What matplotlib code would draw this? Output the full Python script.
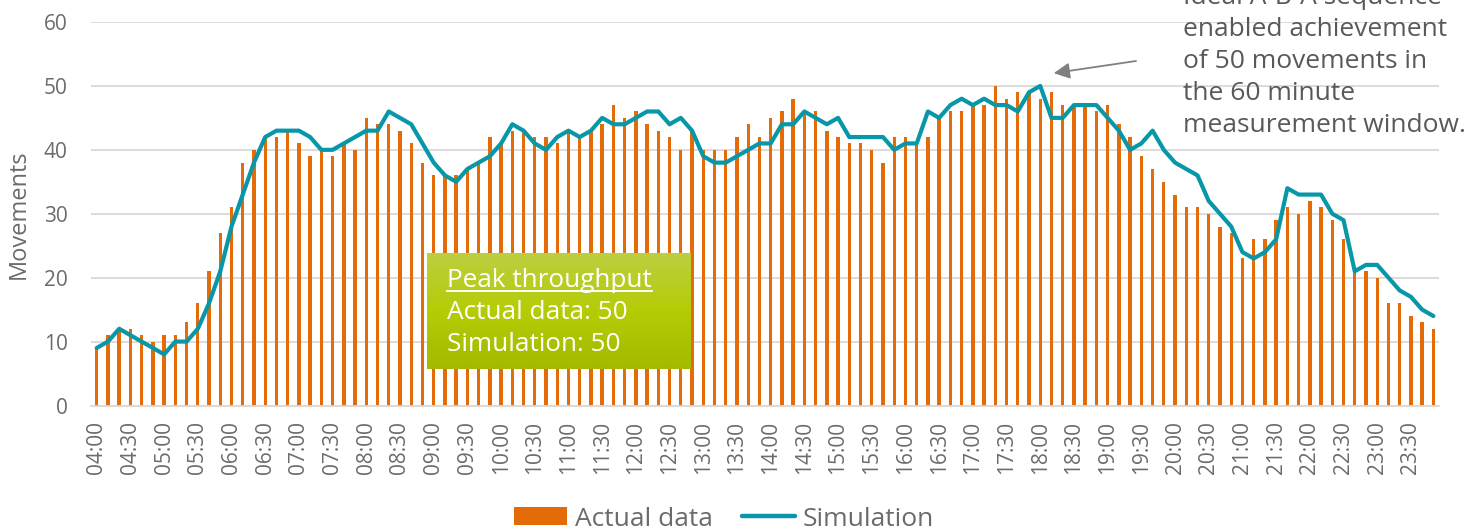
import numpy as np
import matplotlib
matplotlib.use("Agg")
import matplotlib.pyplot as plt
from matplotlib.lines import Line2D
from matplotlib.patches import Patch

plt.rcParams['font.family'] = ['Open Sans', 'DejaVu Sans']

W, H = 1469, 532

# 10-minute intervals from 04:00 to 23:50
times = [f"{h:02d}:{m:02d}" for h in range(4, 24) for m in range(0, 60, 10)]

tick_labels = ["04:00", "04:30", "05:00", "05:30", "06:00", "06:30", "07:00", "07:30",
               "08:00", "08:30", "09:00", "09:30", "10:00", "10:30", "11:00", "11:30",
               "12:00", "12:30", "13:00", "13:30", "14:00", "14:30", "15:00", "15:30",
               "16:00", "16:30", "17:00", "17:30", "18:00", "18:30", "19:00", "19:30",
               "20:00", "20:30", "21:00", "21:30", "22:00", "22:30", "23:00", "23:30"]

actual = [9, 11, 12, 12, 11, 10, 11, 11, 13, 16,
          21, 27, 31, 38, 40, 42, 42, 43, 41, 39,
          40, 39, 41, 40, 45, 44, 44, 43, 41, 38,
          36, 36, 36, 37, 38, 42, 41, 43, 43, 42,
          42, 41, 43, 42, 43, 44, 47, 45, 46, 44,
          43, 42, 40, 43, 40, 40, 40, 42, 44, 42,
          45, 46, 48, 46, 46, 43, 42, 41, 41, 40,
          38, 42, 42, 41, 42, 45, 46, 46, 47, 47,
          50, 48, 49, 49, 48, 49, 47, 47, 47, 46,
          47, 44, 42, 39, 37, 35, 33, 31, 31, 30,
          28, 27, 23, 26, 26, 29, 31, 30, 32, 31,
          29, 26, 21, 21, 20, 16, 16, 14, 13, 12]

simulation = [9, 10, 12, 11, 10, 9, 8, 10, 10, 12,
              16, 21, 28, 33, 38, 42, 43, 43, 43, 42,
              40, 40, 41, 42, 43, 43, 46, 45, 44, 41,
              38, 36, 35, 37, 38, 39, 41, 44, 43, 41,
              40, 42, 43, 42, 43, 45, 44, 44, 45, 46,
              46, 44, 45, 43, 39, 38, 38, 39, 40, 41,
              41, 44, 44, 46, 45, 44, 45, 42, 42, 42,
              42, 40, 41, 41, 46, 45, 47, 48, 47, 48,
              47, 47, 46, 49, 50, 45, 45, 47, 47, 47,
              45, 43, 40, 41, 43, 40, 38, 37, 36, 32,
              30, 28, 24, 23, 24, 26, 34, 33, 33, 33,
              30, 29, 21, 22, 22, 20, 18, 17, 15, 14]

ORANGE = "#E36C09"
TEAL = "#0797A8"
GRID = "#D9D9D9"
TXT = "#595959"
TICK = "#6b6b6b"


def fx(px):
    return px / W


def fy(py):
    return 1 - py / H


fig = plt.figure(figsize=(W / 100, H / 100), dpi=100)
left, right, top, bottom = 91.1, 1439.0, 22.0, 405.5
ax = fig.add_axes([fx(left), fy(bottom), fx(right - left), (bottom - top) / H])

x = np.arange(len(times))
ax.bar(x, actual, width=0.3, color=ORANGE, zorder=2, label="Actual data")
ax.plot(x, simulation, color=TEAL, lw=3.0, solid_joinstyle='round',
        solid_capstyle='round', zorder=3, label="Simulation")

ax.set_xlim(-0.5, len(times) - 0.5)
ax.set_ylim(0, 60)
ax.set_yticks(range(0, 61, 10))
ax.set_xticks(x[::3])
ax.set_xticklabels(tick_labels, rotation=90)
ax.tick_params(axis='both', length=0, labelsize=15, colors=TICK)
ax.tick_params(axis='y', pad=17)
ax.tick_params(axis='x', pad=11)
ax.grid(axis='y', color=GRID, lw=1.3)
ax.set_axisbelow(True)
for s in ['left', 'right', 'top']:
    ax.spines[s].set_visible(False)
ax.spines['bottom'].set_color(GRID)
ax.spines['bottom'].set_linewidth(1.3)
ax.set_ylabel("Movements", fontsize=17, color=TICK, labelpad=9)

# Legend
handles = [Patch(facecolor=ORANGE, edgecolor='none'),
           Line2D([0], [0], color=TEAL, lw=3.2, solid_capstyle='round')]
fig.legend(handles, ["Actual data", "Simulation"], loc='center',
           bbox_to_anchor=(fx(724), fy(519)), ncol=2, frameon=False,
           fontsize=19, labelcolor=TICK, handlelength=2.0, handleheight=0.65,
           handletextpad=0.3, columnspacing=1.1)

# Green gradient box
bx_l, bx_r, bx_t, bx_b = 427.0, 690.5, 253.3, 369.3
bx = fig.add_axes([fx(bx_l), fy(bx_b), fx(bx_r - bx_l), (bx_b - bx_t) / H], zorder=2)
top_c = np.array([188, 207, 66]) / 255
mid_c = np.array([181, 204, 5]) / 255
bot_c = np.array([163, 186, 0]) / 255
n = 200
t = np.linspace(0, 1, n)[:, None]
grad = np.where(t < 0.5, top_c + (mid_c - top_c) * (t / 0.5), mid_c + (bot_c - mid_c) * ((t - 0.5) / 0.5))
grad = np.repeat(grad[:, None, :], 2, axis=1)
bx.imshow(grad, aspect='auto', extent=[0, 1, 0, 1], interpolation='bilinear')
bx.set_axis_off()

box_lines = ["Peak throughput", "Actual data: 50", "Simulation: 50"]
box_base = [287.0, 319.3, 351.0]
texts = []
for s, b in zip(box_lines, box_base):
    texts.append(fig.text(fx(447.3), fy(b), s, fontsize=18.8, color='white',
                          va='baseline', ha='left', zorder=5))

# Right annotation
note_lines = ["Ideal A-B-A sequence", "enabled achievement", "of 50 movements in",
              "the 60 minute", "measurement window."]
for i, s in enumerate(note_lines):
    fig.text(fx(1183), fy(3.7 + 32.2 * i), s, fontsize=19, color=TXT,
             va='baseline', ha='left', zorder=5)

peak_idx = int(np.argmax(simulation))
ax.annotate('', xy=(peak_idx + 1.2, simulation[peak_idx] + 2.0),
            xytext=(fx(1136), fy(61)), textcoords='figure fraction',
            arrowprops=dict(arrowstyle='-|>', color='#808080', lw=1.3,
                            mutation_scale=24, shrinkA=0, shrinkB=0),
            annotation_clip=False, zorder=6)

# underline for the heading in the box
fig.canvas.draw()
bb = texts[0].get_window_extent()
fig.add_artist(Line2D([bb.x0 / W, bb.x1 / W], [fy(290.5), fy(290.5)],
                      transform=fig.transFigure, color='white', lw=1.4, zorder=6))

fig.savefig("out.png", dpi=100)
